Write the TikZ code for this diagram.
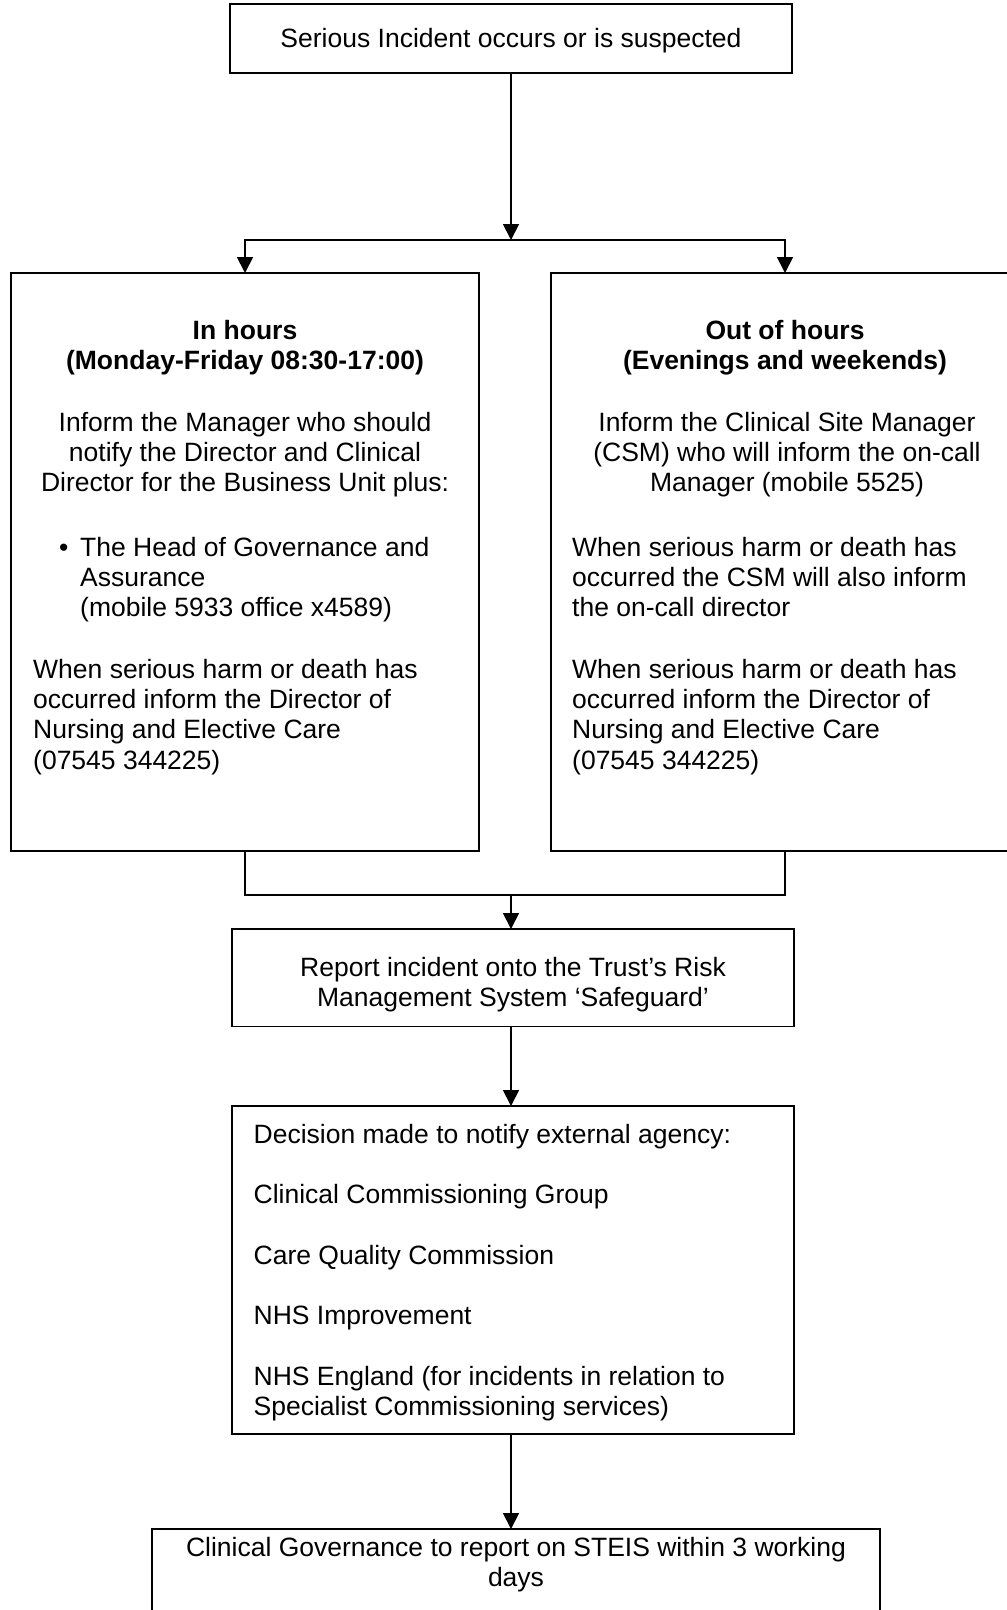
\documentclass[tikz,border=0pt]{standalone}
\usepackage{fontspec}
\setmainfont{Liberation Sans}
\usetikzlibrary{arrows.meta}
% stacked lines whose baseline is the first line's baseline
\newcommand{\stacklines}[2][c]{\begin{tabular}[t]{@{}#1@{}}#2\end{tabular}}

\begin{document}
\begin{tikzpicture}[x=1pt,y=-1pt,
  box/.style 2 args={draw, line width=1.3pt, minimum width=#1, minimum height=#2,
    anchor=north west, inner sep=0pt, outer sep=0pt},
  txt/.style={inner sep=0pt, font=\fontsize{26.5}{30.3}\selectfont},
  head/.style={inner sep=0pt, font=\fontsize{26.5}{30.3}\selectfont\bfseries},
  link/.style={line width=1.8pt},
  conn/.style={link, -{Triangle[width=16pt,length=16pt]}}]

\useasboundingbox (0,0) rectangle (1007,1610);
\clip (0,0) rectangle (1007,1610);

% start
\node[box={562}{69}] (top) at (230,4) {};
\node[txt, anchor=base] (topT) at (511,47) {Serious Incident occurs or is suspected};

% split into in hours / out of hours
\coordinate (split) at (511,240);
\node[box={468}{578}] (inh) at (11,273) {};
\node[box={468}{578}] (ooh) at (551,273) {};
\draw[conn] (top.south) -- (split);
\draw[conn] (split) -| (inh.north);
\draw[conn] (split) -| (ooh.north);

% in hours
\node[head, anchor=base] (inhH) at (245,339.5) {\stacklines{In hours\\(Monday-Friday 08:30-17:00)}};
\node[txt, anchor=base] (inhA) at (245,431) {\stacklines{Inform the Manager who should\\notify the Director and Clinical\\Director for the Business Unit plus:}};
\node[txt, anchor=base west] (inhBul) at (59,556) {\textbullet};
\node[txt, anchor=base west] (inhB) at (80,556) {\stacklines[l]{The Head of Governance and\\Assurance\\(mobile 5933 office x4589)}};
\node[txt, anchor=base west] (inhC) at (33,678.3) {\stacklines[l]{When serious harm or death has\\occurred inform the Director of\\Nursing and Elective Care\\(07545 344225)}};

% out of hours
\node[head, anchor=base] (oohH) at (785,339.5) {\stacklines{Out of hours\\(Evenings and weekends)}};
\node[txt, anchor=base] (oohA) at (787,431) {\stacklines{Inform the Clinical Site Manager\\(CSM) who will inform the on-call\\Manager (mobile 5525)}};
\node[txt, anchor=base west] (oohB) at (572,556) {\stacklines[l]{When serious harm or death has\\occurred the CSM will also inform\\the on-call director}};
\node[txt, anchor=base west] (oohC) at (572,678.3) {\stacklines[l]{When serious harm or death has\\occurred inform the Director of\\Nursing and Elective Care\\(07545 344225)}};

% rejoin
\coordinate (join) at (511,895);
\node[box={562}{97.5}] (rep) at (232,929) {};
\draw[link] (inh.south) |- (join);
\draw[link] (ooh.south) |- (join);
\draw[conn] (join) -- (join |- rep.north);
\node[txt, anchor=base] (repT) at (513,976) {\stacklines{Report incident onto the Trust’s Risk\\Management System ‘Safeguard’}};

% external agencies
\node[box={562}{328}] (dec) at (232,1106) {};
\draw[conn] (rep.south -| join) -- (dec.north -| join);
\node[txt, anchor=base west] (decT) at (253.5,1143) {\stacklines[l]{Decision made to notify external agency:\\ \\Clinical Commissioning Group\\ \\Care Quality Commission\\ \\NHS Improvement\\ \\NHS England (for incidents in relation to\\Specialist Commissioning services)}};

% STEIS
\node[box={728}{140}] (steis) at (152,1529) {};
\draw[conn] (dec.south -| join) -- (steis.north -| join);
\node[txt, anchor=base] (steisT) at (516,1556) {\stacklines{Clinical Governance to report on STEIS within 3 working\\days}};

\end{tikzpicture}
\end{document}
